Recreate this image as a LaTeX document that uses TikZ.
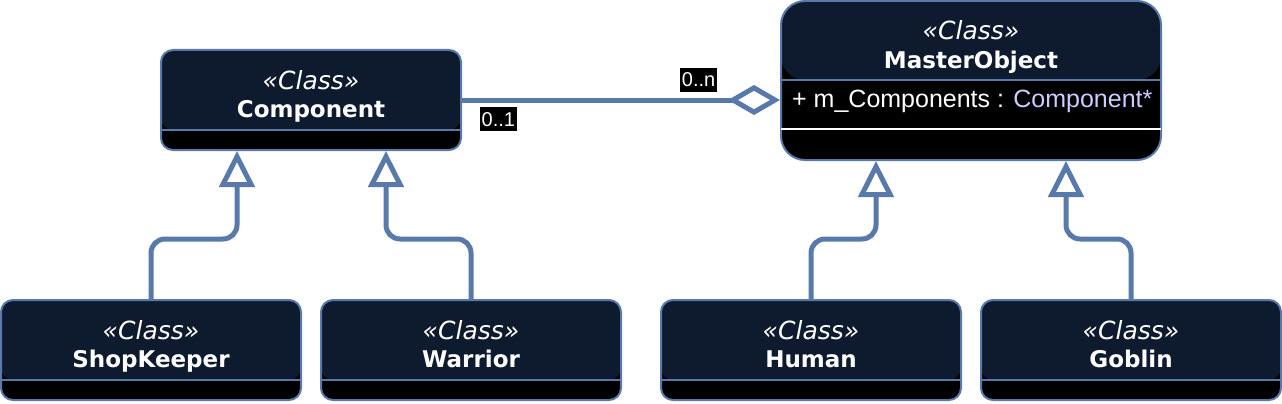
\documentclass[tikz,border=0pt]{standalone}
\usepackage{fontspec}
\setmainfont{DejaVu Sans}
\newfontfamily\arialfont{Liberation Sans}
\usetikzlibrary{positioning, arrows.meta}

\definecolor{umlblue}{RGB}{88,121,170}
\definecolor{umlnavy}{RGB}{14,27,46}
\definecolor{attrlav}{RGB}{204,204,255}

\tikzset{
    classbox/.style = {rectangle, rounded corners = 12pt, draw = umlblue, line width = 2pt, fill = black,
        minimum width = 300pt, minimum height = 100pt, inner sep = 0pt,
        path picture = {
            \fill[umlnavy] (path picture bounding box.north west) rectangle ([yshift = #1]path picture bounding box.south east);
            \draw[umlblue, line width = 2pt] ([yshift = #1]path picture bounding box.south west) -- ([yshift = #1]path picture bounding box.south east);
        }},
    classbox/.default = 20pt,
    stereo/.style = {anchor = base, inner sep = 0pt, text = white, font = \fontsize{25}{29}\selectfont\itshape},
    classname/.style = {anchor = base, inner sep = 0pt, text = white, font = \fontsize{23}{29}\selectfont\bfseries},
    attrtext/.style = {anchor = base west, inner sep = 0pt, text = white, font = \arialfont\fontsize{25}{29}\selectfont},
    mult/.style = {fill = black, text = white, inner xsep = 1.5pt, inner ysep = 1pt, minimum height = 24pt, font = \arialfont\fontsize{20}{22}\selectfont},
    inherit/.style = {umlblue, line width = 5pt, rounded corners = 14pt, -{Triangle[open, length = 36pt, width = 35pt]}},
    aggregate/.style = {umlblue, line width = 5pt, -{Diamond[open, length = 52pt, width = 30pt]}}
}

\begin{document}
\begin{tikzpicture}[x = 1pt, y = -1pt]
    \useasboundingbox (0,0) rectangle (1282,404);

    % classes
    \node(comp)[classbox] at (311,100) {};
    \node(master)[classbox = 80pt, rounded corners = 24pt, minimum width = 380pt, minimum height = 159pt] at (971,80.5) {};
    \node(shop)[classbox] at (151,350) {};
    \node(warrior)[classbox] at (471,350) {};
    \node(human)[classbox] at (811,350) {};
    \node(goblin)[classbox] at (1131,350) {};

    \foreach \n/\t in {comp/Component, master/MasterObject, shop/ShopKeeper, warrior/Warrior, human/Human, goblin/Goblin} {
        \node(\n-st)[stereo] at ([yshift = -40pt]\n.north) {«Class»};
        \node(\n-name)[classname] at ([yshift = -68pt]\n.north) {\t};
    }

    % attribute compartment
    \draw[white, line width = 2pt, shorten <= 1pt, shorten >= 1pt] ([yshift = 32pt]master.south west) -- ([yshift = 32pt]master.south east);
    \node(attr)[attrtext] at ([xshift = 12pt, yshift = -107pt]master.north west) {+ m\_Components : \textcolor{attrlav}{Component*}};

    % aggregation
    \draw[aggregate](comp.east) -- (master.west |- comp.east);
    \node(lowmult)[mult, below right = 7pt and 18pt] at (comp.east) {0..1};
    \node(highmult)[mult, above left = 8pt and 63pt] at (master.west |- comp.east) {0..n};

    % generalizations
    \draw[inherit](shop.north) -- ++(0,-60) -| ([xshift = -74pt]comp.south);
    \draw[inherit](warrior.north) -- ++(0,-60) -| ([xshift = 75pt]comp.south);
    \draw[inherit](human.north) -- ++(0,-60) -| ([xshift = -95pt]master.south);
    \draw[inherit](goblin.north) -- ++(0,-60) -| ([xshift = 95pt]master.south);

\end{tikzpicture}
\end{document}
